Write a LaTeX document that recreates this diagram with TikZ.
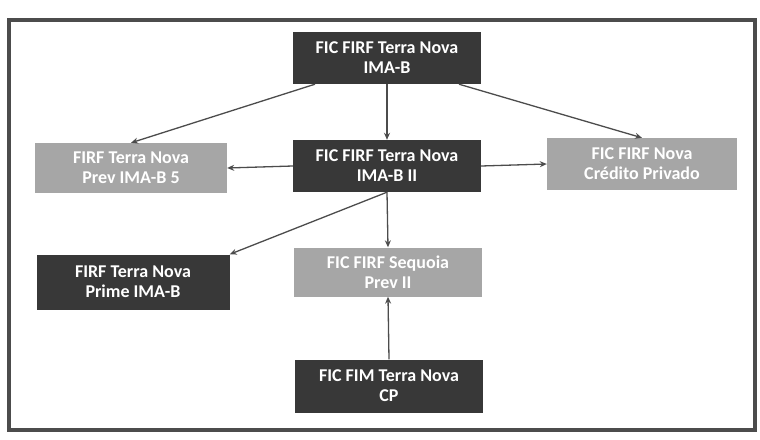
\documentclass[tikz,border=0pt]{standalone}
\usepackage{fontspec}
\setmainfont{Carlito}
\usetikzlibrary{arrows.meta}

\begin{document}
\begin{tikzpicture}[x=1pt, y=-1pt,
  darkbox/.style={fill=black!78, text=white, minimum width=188pt, minimum height=52pt, align=center, inner sep=2pt, font=\fontsize{18}{20}\selectfont\bfseries},
  lightbox/.style={darkbox, fill=black!35},
  link/.style={draw=black!70, line width=1.3pt, -{Stealth[length=7pt,width=6pt]}}]
  \useasboundingbox (0,0) rectangle (760,439);
  \draw[black!70, line width=4pt] (9,20) rectangle (755,430); % ramka

  \node[darkbox] (imab) at (387,58) {FIC FIRF Terra Nova\\IMA-B};
  \node[darkbox] (imabii) at (387,166) {FIC FIRF Terra Nova\\IMA-B II};
  \node[lightbox, minimum width=192pt, minimum height=50pt] (prev) at (131,168) {FIRF Terra Nova\\Prev IMA-B 5};
  \node[lightbox, minimum width=190pt] (cred) at (642,164) {FIC FIRF Nova\\Crédito Privado};
  \node[darkbox, minimum width=193pt, minimum height=55pt] (prime) at (133,282) {FIRF Terra Nova\\Prime IMA-B};
  \node[lightbox, minimum height=49pt] (sequoia) at (388,272) {FIC FIRF Sequoia\\Prev II};
  \node[darkbox, minimum height=53pt] (cp) at (389,386) {FIC FIM Terra Nova\\CP};

  \draw[link] (imab.south) -- (imabii.north);
  \draw[link] (imab.200) -- (prev.north);
  \draw[link] (imab.340) -- (cred.north);
  \draw[link] (imabii.west) -- (prev.east);
  \draw[link] (imabii.east) -- (cred.west);
  \draw[link] (imabii.south) -- (sequoia.north);
  \draw[link] (imabii.south) -- (prime.north east);
  \draw[link] (cp.north) -- (sequoia.south);
\end{tikzpicture}
\end{document}
